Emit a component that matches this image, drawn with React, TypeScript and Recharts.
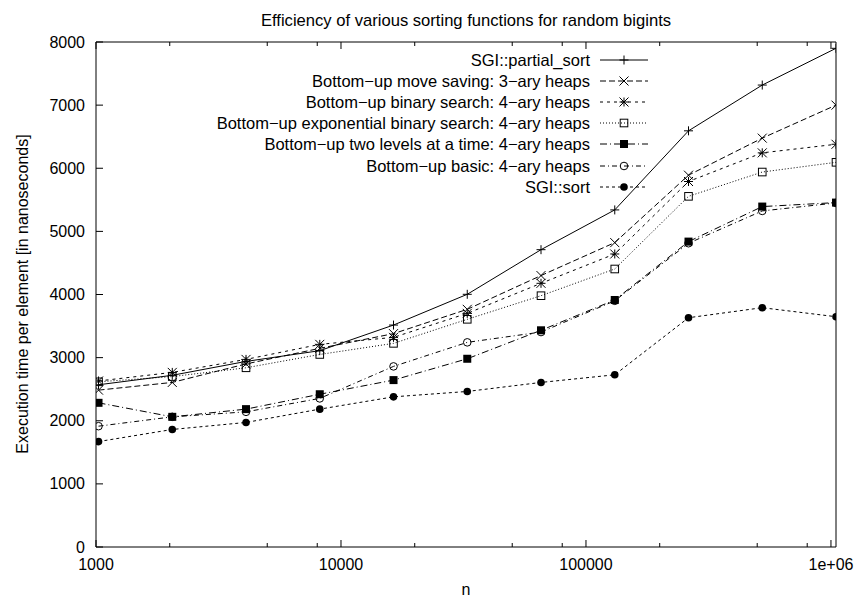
import React from "react";
import { LineChart, Line, XAxis, YAxis, Legend } from "recharts";

// problem sizes (2^10 .. 2^20)
const sizes = [1024, 2048, 4096, 8192, 16384, 32768, 65536, 131072, 262144, 524288, 1048576];

// execution time per element [ns]
const partialSort = [2570, 2720, 2940, 3110, 3516, 4003, 4710, 5340, 6593, 7318, 7900];
const moveSaving3 = [2485, 2607, 2900, 3147, 3380, 3765, 4300, 4822, 5890, 6477, 7000];
const binarySearch4 = [2630, 2766, 2972, 3210, 3321, 3701, 4177, 4642, 5790, 6244, 6380];
const expBinarySearch4 = [2617, 2700, 2839, 3050, 3226, 3607, 3981, 4404, 5555, 5940, 6094];
const twoLevels4 = [2284, 2062, 2184, 2420, 2644, 2982, 3433, 3913, 4838, 5393, 5456];
const basic4 = [1914, 2062, 2141, 2354, 2861, 3242, 3405, 3900, 4812, 5324, 5450];
const sgiSort = [1670, 1862, 1973, 2184, 2379, 2464, 2607, 2728, 3632, 3791, 3648];

const xMajorTicks = [1000, 10000, 100000, 1000000];
const xMajorLabels = ["1000", "10000", "100000", "1e+06"];
const xMinorTicks = [2000, 5000, 8000, 20000, 50000, 80000, 200000, 500000, 800000];
const yTicks = [0, 1000, 2000, 3000, 4000, 5000, 6000, 7000, 8000];

const series = [
  { key: "partialSort", name: "SGI::partial_sort", values: partialSort, dash: undefined, marker: "plus" },
  { key: "moveSaving3", name: "Bottom\u2212up move saving: 3\u2212ary heaps", values: moveSaving3, dash: "6 3", marker: "cross" },
  { key: "binarySearch4", name: "Bottom\u2212up binary search: 4\u2212ary heaps", values: binarySearch4, dash: "3 4", marker: "star" },
  { key: "expBinarySearch4", name: "Bottom\u2212up exponential binary search: 4\u2212ary heaps", values: expBinarySearch4, dash: "1 2", marker: "box" },
  { key: "twoLevels4", name: "Bottom\u2212up two levels at a time: 4\u2212ary heaps", values: twoLevels4, dash: "7 3 1 3", marker: "fbox" },
  { key: "basic4", name: "Bottom\u2212up basic: 4\u2212ary heaps", values: basic4, dash: "5 3 1 3", marker: "circle" },
  { key: "sgiSort", name: "SGI::sort", values: sgiSort, dash: "3 3", marker: "fcircle" },
];

const rows = sizes.map((n, i) => {
  const row: Record<string, number> = { n };
  series.forEach((s) => (row[s.key] = s.values[i]));
  return row;
});

const FONT = "'Liberation Sans', Arial, Helvetica, sans-serif";
const W = 861;
const H = 599;

function Marker({ kind, cx, cy }: { kind: string; cx: number; cy: number }) {
  const s = 4.5;
  const plus = `M${cx - s},${cy}H${cx + s}M${cx},${cy - s}V${cy + s}`;
  const cross = `M${cx - s},${cy - s}L${cx + s},${cy + s}M${cx - s},${cy + s}L${cx + s},${cy - s}`;
  switch (kind) {
    case "plus":
      return <path d={plus} stroke="#000" strokeWidth={1} fill="none" />;
    case "cross":
      return <path d={cross} stroke="#000" strokeWidth={1} fill="none" />;
    case "star":
      return <path d={plus + cross} stroke="#000" strokeWidth={1} fill="none" />;
    case "box":
      return <rect x={cx - 3.8} y={cy - 3.8} width={7.6} height={7.6} stroke="#000" strokeWidth={1} fill="none" />;
    case "fbox":
      return <rect x={cx - 4} y={cy - 4} width={8} height={8} fill="#000" />;
    case "circle":
      return <circle cx={cx} cy={cy} r={3.8} stroke="#000" strokeWidth={1} fill="none" />;
    default:
      return <circle cx={cx} cy={cy} r={3.8} fill="#000" />;
  }
}

const BottomTick = (props: any) => {
  const { x, y, payload } = props;
  const idx = xMajorTicks.indexOf(payload.value);
  const major = idx >= 0;
  return (
    <g>
      <line x1={x} x2={x} y1={y} y2={y - (major ? 7 : 4)} stroke="#000" strokeWidth={1} />
      {major && (
        <text x={x} y={y + 17} textAnchor="middle" dominantBaseline="central" fontSize={16} fontFamily={FONT} fill="#000">
          {xMajorLabels[idx]}
        </text>
      )}
    </g>
  );
};

const TopTick = (props: any) => {
  const { x, y, payload } = props;
  const major = xMajorTicks.indexOf(payload.value) >= 0;
  return <line x1={x} x2={x} y1={y} y2={y + (major ? 7 : 4)} stroke="#000" strokeWidth={1} />;
};

const LeftTick = (props: any) => {
  const { x, y, payload } = props;
  return (
    <g>
      <line x1={x} x2={x + 7} y1={y} y2={y} stroke="#000" strokeWidth={1} />
      <text x={x - 11} y={y} textAnchor="end" dominantBaseline="central" fontSize={16} fontFamily={FONT} fill="#000">
        {payload.value}
      </text>
    </g>
  );
};

const RightTick = (props: any) => {
  const { x, y } = props;
  return <line x1={x} x2={x - 7} y1={y} y2={y} stroke="#000" strokeWidth={1} />;
};

const TitleLabel = () => (
  <text x={466} y={20} textAnchor="middle" dominantBaseline="central" fontSize={16.6} fontFamily={FONT} fill="#000">
    Efficiency of various sorting functions for random bigints
  </text>
);

const XLabel = () => (
  <text x={466} y={589} textAnchor="middle" dominantBaseline="central" fontSize={16} fontFamily={FONT} fill="#000">
    n
  </text>
);

const YLabel = () => (
  <text
    x={22}
    y={294}
    transform="rotate(-90 22 294)"
    textAnchor="middle"
    dominantBaseline="central"
    fontSize={16}
    fontFamily={FONT}
    fill="#000"
  >
    Execution time per element [in nanoseconds]
  </text>
);

const LegendBox = () => (
  <div style={{ position: "relative", width: W, height: 200, fontFamily: FONT, fontSize: 16.5, color: "#000" }}>
    {series.map((s, i) => {
      const cy = 60 + i * 21.1;
      return (
        <React.Fragment key={s.key}>
          <div style={{ position: "absolute", right: W - 590, top: cy - 10, lineHeight: "20px", whiteSpace: "nowrap" }}>
            {s.name}
          </div>
          <svg style={{ position: "absolute", left: 598, top: cy - 10 }} width={52} height={20}>
            <line x1={2} y1={10} x2={50} y2={10} stroke="#000" strokeWidth={1} strokeDasharray={s.dash} />
            <Marker kind={s.marker} cx={26} cy={10} />
          </svg>
        </React.Fragment>
      );
    })}
  </div>
);

export default function App() {
  return (
    <div style={{ position: "absolute", left: 0, top: 0, background: "#fff" }}>
      <LineChart width={W} height={H} data={rows} margin={{ top: 41, right: 24, bottom: 0, left: 0 }}>
        <XAxis
          xAxisId="bottom"
          dataKey="n"
          type="number"
          scale="log"
          domain={[1000, 1048576]}
          allowDataOverflow
          ticks={[...xMajorTicks, ...xMinorTicks]}
          interval={0}
          tickSize={0}
          tickMargin={0}
          tickLine={false}
          tick={<BottomTick />}
          height={52}
          stroke="#000"
          label={<XLabel />}
        />
        <XAxis
          xAxisId="top"
          orientation="top"
          dataKey="n"
          type="number"
          scale="log"
          domain={[1000, 1048576]}
          allowDataOverflow
          ticks={[...xMajorTicks, ...xMinorTicks]}
          interval={0}
          tickSize={0}
          tickMargin={0}
          tickLine={false}
          tick={<TopTick />}
          height={1}
          stroke="#000"
          label={<TitleLabel />}
        />
        <YAxis
          yAxisId="left"
          type="number"
          domain={[0, 8000]}
          ticks={yTicks}
          interval={0}
          tickSize={0}
          tickMargin={0}
          tickLine={false}
          tick={<LeftTick />}
          width={96}
          stroke="#000"
          label={<YLabel />}
        />
        <YAxis
          yAxisId="right"
          orientation="right"
          type="number"
          domain={[0, 8000]}
          ticks={yTicks}
          interval={0}
          tickSize={0}
          tickMargin={0}
          tickLine={false}
          tick={<RightTick />}
          width={1}
          stroke="#000"
        />
        <Legend
          layout="vertical"
          align="center"
          verticalAlign="middle"
          content={<LegendBox />}
          wrapperStyle={{ position: "absolute", left: 0, top: 0, width: W, height: 200, pointerEvents: "none" }}
        />
        {series.map((s) => (
          <Line
            key={s.key}
            xAxisId="bottom"
            yAxisId="left"
            dataKey={s.key}
            name={s.name}
            type="linear"
            stroke="#000"
            strokeWidth={1}
            strokeDasharray={s.dash}
            isAnimationActive={false}
            dot={(p: any) => <Marker key={`${s.key}-${p.index}`} kind={s.marker} cx={p.cx} cy={p.cy} />}
            activeDot={false}
          />
        ))}
      </LineChart>
    </div>
  );
}
